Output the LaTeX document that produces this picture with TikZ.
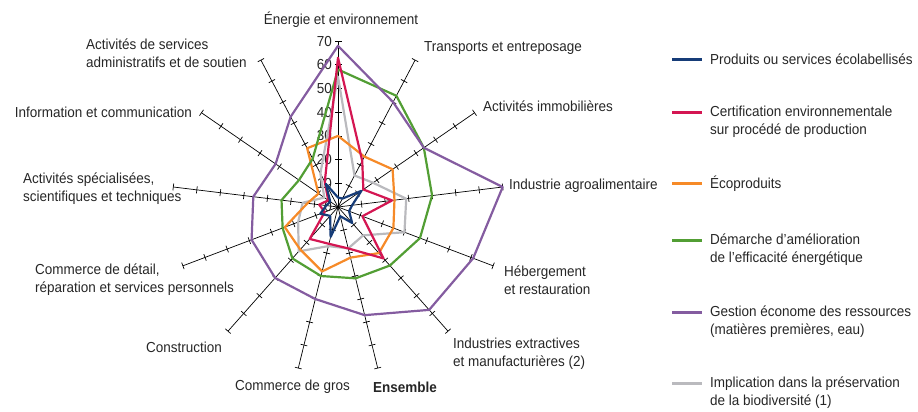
\documentclass[tikz,border=0pt]{standalone}
\usepackage{fontspec}
\setmainfont{Liberation Sans}[FakeStretch=0.93]
\usepackage{tikz}

\definecolor{ecoblue}{RGB}{22,60,120}
\definecolor{ecored}{RGB}{212,22,82}
\definecolor{ecoorange}{RGB}{246,138,40}
\definecolor{ecogreen}{RGB}{82,158,52}
\definecolor{ecopurple}{RGB}{132,92,160}
\definecolor{ecogray}{RGB}{186,186,190}

% one closed line of the radar, 13 values clockwise from the top
\newcommand{\radar}[2]{%
  \foreach \v [count=\i from 0] in {#2}
    \coordinate (p\i) at ({90-\i*360/13}:\v*2.37);
  \draw[serie, #1] (p0) \foreach \i in {1,...,12} {-- (p\i)} -- cycle;
}

\begin{document}
\begin{tikzpicture}[x=1pt, y=1pt,
    every node/.style={font=\fontsize{14.5}{18}\selectfont, text=black!85, inner sep=0pt},
    axe/.style={black, line width=0.7pt},
    serie/.style={line width=2.2pt, line join=round},
    cle/.style={line width=3pt}]
  \useasboundingbox (0,0) rectangle (918,412);

  \begin{scope}[shift={(338,205)}]
    % Draw axes with ticks
    \foreach \i in {0,...,12} {
      \draw[axe, rotate={90-\i*360/13}] (0,0) -- (165.9,0);
      \foreach \k in {1,...,7}
        \draw[axe, rotate={90-\i*360/13}] (\k*23.7,-3.5) -- (\k*23.7,3.5);
    }
    % Scale on the top axis
    \foreach \k in {0,10,...,70}
      \node[anchor=east] (s\k) at (-6,\k*2.37) {\k};

    % Draw the series
    \radar{ecogray}{55,15,18,29,30,16,18,17,25,18,15,7,16}
    \radar{ecoorange}{30,24,28,24,25,26,22,28,24,24,13,10,28}
    \radar{ecogreen}{58,53,44,40,37,33,31,30,29,25,24,20,23}
    \radar{ecored}{63,22,13,23,11,29,18,16,18,6,8,5,12}
    \radar{ecoblue}{4,4,12,6,5,9,4,13,5,8,5,4,11}
    \radar{ecopurple}{68,50,44,70,61,58,47,40,40,39,36,32,43}
  \end{scope}

  % Axis labels
  \node (a0) at (341,392) {Énergie et environnement};
  \node[anchor=west] (a1) at (424,364) {Transports et entreposage};
  \node[anchor=west] (a2) at (483,306) {Activités immobilières};
  \node[anchor=west] (a3) at (509,226) {Industrie agroalimentaire};
  \node[anchor=west, align=left] (a4) at (504,132) {Hébergement\\et restauration};
  \node[anchor=west, align=left] (a5) at (453,58) {Industries extractives\\et manufacturières (2)};
  \node (a6) at (405,25) {\bfseries Ensemble};
  \node[anchor=east] (a7) at (350,25) {Commerce de gros};
  \node[anchor=east] (a8) at (222,65) {Construction};
  \node[anchor=west, align=left] (a9) at (35,132) {Commerce de détail,\\réparation et services personnels};
  \node[anchor=west, align=left] (a10) at (23,223) {Activités spécialisées,\\scientifiques et techniques};
  \node[anchor=east] (a11) at (192,300) {Information et communication};
  \node[anchor=west, align=left] (a12) at (86,359) {Activités de services\\administratifs et de soutien};

  % Legend
  \draw[cle, ecoblue] (672,352) -- (702,352);
  \node[anchor=west] (l1) at (710,352.5) {Produits ou services écolabellisés};
  \draw[cle, ecored] (672,299) -- (702,299);
  \node[anchor=west, align=left] (l2) at (710,290) {Certification environnementale\\sur procédé de production};
  \draw[cle, ecoorange] (672,228) -- (702,228);
  \node[anchor=west] (l3) at (710,228.5) {Écoproduits};
  \draw[cle, ecogreen] (672,171) -- (702,171);
  \node[anchor=west, align=left] (l4) at (710,162) {Démarche d’amélioration\\de l’efficacité énergétique};
  \draw[cle, ecopurple] (672,99) -- (702,99);
  \node[anchor=west, align=left] (l5) at (710,90) {Gestion économe des ressources\\(matières premières, eau)};
  \draw[cle, ecogray] (672,28) -- (702,28);
  \node[anchor=west, align=left] (l6) at (710,19.5) {Implication dans la préservation\\de la biodiversité (1)};
\end{tikzpicture}
\end{document}
